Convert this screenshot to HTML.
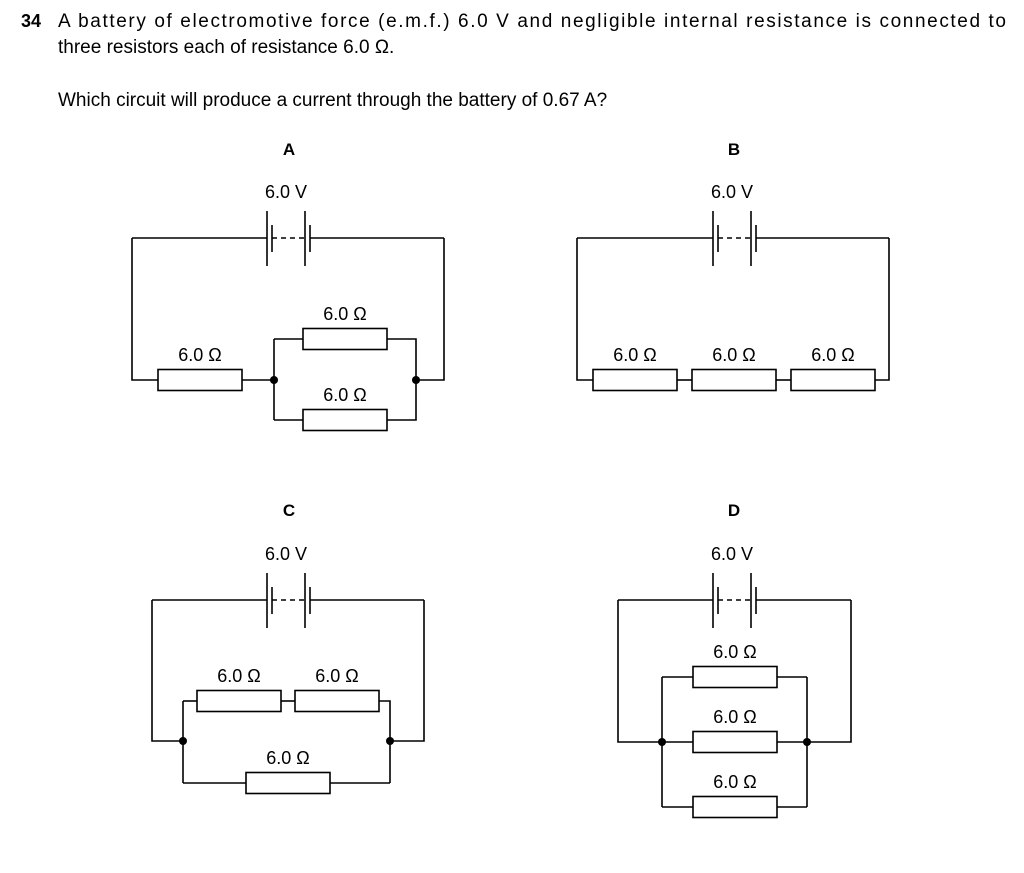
<!DOCTYPE html>
<html><head><meta charset="utf-8"><style>
html,body{margin:0;padding:0;background:#fff;}
body{width:1024px;height:873px;overflow:hidden;position:relative;font-family:"Liberation Sans",Arial,sans-serif;}
svg{position:absolute;left:0;top:0;}
text{font-family:"Liberation Sans",Arial,sans-serif;fill:#000;}
</style></head><body>
<svg id="s" width="1024" height="873" viewBox="0 0 1024 873">
<text x="21" y="27" font-size="18" font-weight="bold">34</text>
<text x="58" y="27" font-size="19" textLength="948" lengthAdjust="spacing">A battery of electromotive force (e.m.f.) 6.0 V and negligible internal resistance is connected to</text>
<text x="58" y="53" font-size="19">three resistors each of resistance 6.0 Ω.</text>
<text x="58" y="106" font-size="19">Which circuit will produce a current through the battery of 0.67 A?</text>
<text x="289" y="155" font-size="17" font-weight="bold" text-anchor="middle">A</text>
<text x="734" y="155" font-size="17" font-weight="bold" text-anchor="middle">B</text>
<text x="289" y="516" font-size="17" font-weight="bold" text-anchor="middle">C</text>
<text x="734" y="516" font-size="17" font-weight="bold" text-anchor="middle">D</text>
<g id="g" stroke="#000" stroke-width="1.6" fill="none"></g>
<g id="t" font-size="18" text-anchor="middle"></g>
</svg>
<script>
const g=document.getElementById('g'),t=document.getElementById('t');
const NS='http://www.w3.org/2000/svg';
function el(p,n,a,txt){const e=document.createElementNS(NS,n);for(const k in a)e.setAttribute(k,a[k]);if(txt)e.textContent=txt;p.appendChild(e);return e;}
function L(x1,y1,x2,y2,extra){el(g,'line',Object.assign({x1,y1,x2,y2},extra||{}));}
function P(pts){el(g,'polyline',{points:pts});}
function R(x1,x2,y,lab){el(g,'rect',{x:x1,y:y-10.5,width:x2-x1,height:21,fill:'#fff'});if(lab)el(t,'text',{x:(x1+x2)/2,y:y-19},lab);}
function D(x,y){el(g,'circle',{cx:x,cy:y,r:4,fill:'#000',stroke:'none'});}
function bat(cx,y,left,right){
  const a=cx,b=cx+38;
  L(left,y,a,y);L(b+5,y,right,y);
  L(a,y-27,a,y+28);L(a+5,y-13,a+5,y+14);
  L(b,y-27,b,y+28);L(b+5,y-13,b+5,y+14);
  L(a+5,y,b,y,{'stroke-dasharray':'5,4'});
  el(t,'text',{x:a+19,y:y-40},'6.0 V');
}
const O='6.0 Ω';
bat(267,238,132,444);
P('132,238 132,380 158,380');R(158,242,380,O);L(242,380,274,380);
P('274,339 274,420');P('274,339 303,339');R(303,387,339,O);P('387,339 416,339 416,420 387,420');
P('274,420 303,420');R(303,387,420,O);
P('416,380 444,380 444,238');D(274,380);D(416,380);
bat(713,238,577,889);
P('577,238 577,380 593,380');R(593,677,380,O);L(677,380,692,380);R(692,776,380,O);L(776,380,791,380);R(791,875,380,O);P('875,380 889,380 889,238');
bat(267,600,152,424);
P('152,600 152,741 183,741');P('183,701 183,783');P('183,701 197,701');R(197,281,701,O);L(281,701,295,701);R(295,379,701,O);P('379,701 390,701 390,783');
P('183,783 246,783');R(246,330,783,O);P('330,783 390,783');
P('390,741 424,741 424,600');D(183,741);D(390,741);
bat(713,600,618,851);
P('618,600 618,742 693,742');P('662,677 662,807');P('807,677 807,807');
L(662,677,693,677);R(693,777,677,O);L(777,677,807,677);
R(693,777,742,O);P('777,742 851,742 851,600');
L(662,807,693,807);R(693,777,807,O);L(777,807,807,807);
D(662,742);D(807,742);
</script>
</body></html>
